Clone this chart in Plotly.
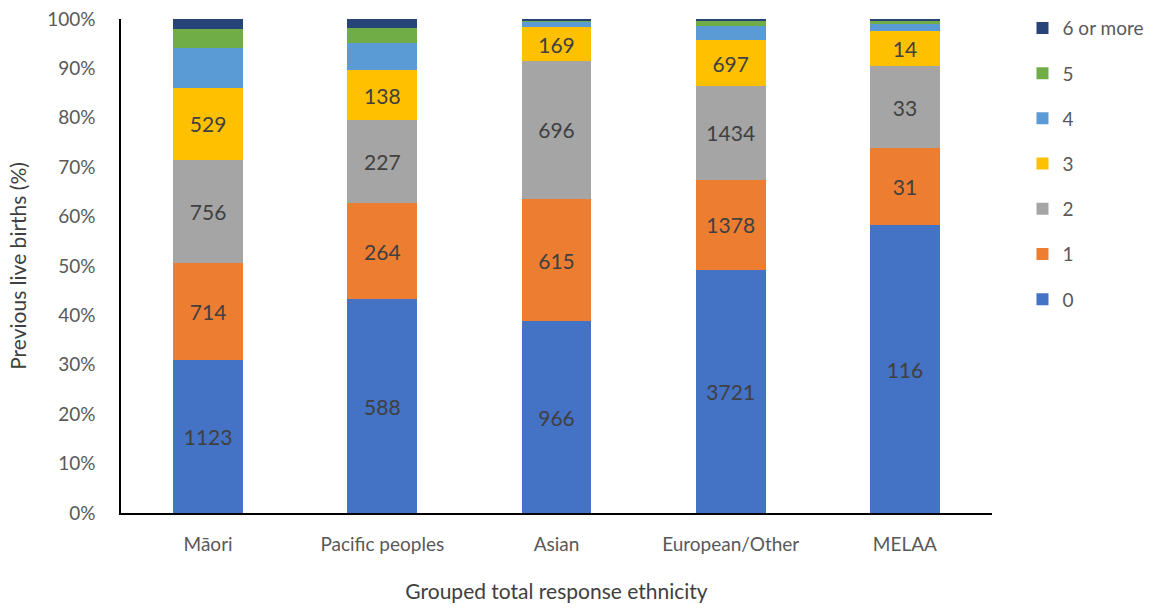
import plotly.graph_objects as go

# Ethnic groups and counts of previous live births per category
groups = ["Māori", "Pacific peoples", "Asian", "European/Other", "MELAA"]
categories = ["0", "1", "2", "3", "4", "5", "6 or more"]
counts = {
    "0": [1123, 588, 966, 3721, 116],
    "1": [714, 264, 615, 1378, 31],
    "2": [756, 227, 696, 1434, 33],
    "3": [529, 138, 169, 697, 14],
    "4": [289, 74, 30, 214, 3],
    "5": [140, 43, 5, 76, 1],
    "6 or more": [75, 24, 7, 36, 1],
}
labelled = {"0", "1", "2", "3"}
colors = {
    "0": "#4472C4",
    "1": "#ED7D31",
    "2": "#A5A5A5",
    "3": "#FFC000",
    "4": "#5B9BD5",
    "5": "#70AD47",
    "6 or more": "#264478",
}

FONT = "Lato, 'Open Sans', sans-serif"

fig = go.Figure()
for i, cat in enumerate(categories):
    vals = counts[cat]
    fig.add_trace(go.Bar(
        x=groups,
        y=vals,
        name=cat,
        legendgroup=cat,
        legendrank=len(categories) - i,
        marker=dict(color=colors[cat], line=dict(width=0)),
        text=[str(v) for v in vals] if cat in labelled else None,
        textposition="inside" if cat in labelled else "none",
        insidetextanchor="middle",
        textfont=dict(family=FONT, size=21, color="#404040"),
        hoverinfo="name+y",
    ))

fig.update_layout(
    barmode="stack",
    barnorm="percent",
    bargap=0.6,
    width=1161,
    height=610,
    margin=dict(l=121, r=169, t=19, b=97, autoexpand=False),
    paper_bgcolor="white",
    plot_bgcolor="white",
    font=dict(family=FONT, color="#595959", size=18),
    legend=dict(
        traceorder="grouped",
        x=1.035, xanchor="left",
        y=1.02, yanchor="top",
        font=dict(family=FONT, size=19, color="#595959"),
        tracegroupgap=17.5,
        itemwidth=30,
        maxheight=560,
    ),
    xaxis=dict(
        showline=True, linecolor="black", linewidth=1.5,
        ticks="", showgrid=False,
        tickfont=dict(size=19, color="#595959"),
        ticklabelstandoff=13,
        title=dict(text="Grouped total response ethnicity",
                   font=dict(size=21, color="#404040"), standoff=31),
    ),
    yaxis=dict(
        range=[0, 100], dtick=10, ticksuffix="%",
        showline=True, linecolor="black", linewidth=1.5,
        ticks="", showgrid=False, zeroline=False,
        tickfont=dict(size=19, color="#595959"),
        ticklabelstandoff=20,
        title=dict(text="Previous live births (%)",
                   font=dict(size=21, color="#404040"), standoff=15),
    ),
)

fig.write_html("out.html")
